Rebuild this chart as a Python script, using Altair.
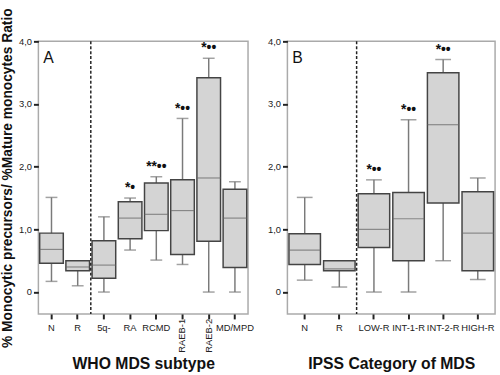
import altair as alt
import pandas as pd

# ---- data ----
catsA = ["N", "R", "5q-", "RA", "RCMD", "RAEB-1", "RAEB-2", "MD/MPD"]
lowA = [0.17, 0.10, 0.00, 0.67, 0.51, 0.44, 0.00, 0.00]
q1A = [0.46, 0.34, 0.22, 0.85, 0.98, 0.60, 0.81, 0.39]
medA = [0.68, 0.40, 0.43, 1.18, 1.24, 1.30, 1.82, 1.18]
q3A = [0.94, 0.50, 0.82, 1.44, 1.74, 1.79, 3.42, 1.64]
highA = [1.51, 0.50, 1.20, 1.50, 1.84, 2.77, 3.73, 1.76]
sigA = ["", "", "", "*•", "**••", "*••", "*••", ""]
rotatedA = ["RAEB-1", "RAEB-2"]

catsB = ["N", "R", "LOW-R", "INT-1-R", "INT-2-R", "HIGH-R"]
lowB = [0.19, 0.08, 0.00, 0.00, 0.50, 0.20]
q1B = [0.44, 0.34, 0.71, 0.50, 1.42, 0.34]
medB = [0.67, 0.37, 1.00, 1.17, 2.67, 0.94]
q3B = [0.93, 0.50, 1.57, 1.59, 3.50, 1.60]
highB = [1.51, 0.50, 1.79, 2.75, 3.71, 1.82]
sigB = ["", "", "*••", "*••", "*••", ""]

y_ticks = [0, 1, 2, 3, 4]
y_domain = [-0.35, 4.0]

FONT = "Liberation Sans"
H = 277


def panel(cats, low, q1, med, q3, high, sig, letter, xtitle, width,
          box_px, cap_px, rotated, show_ytitle):
    df = pd.DataFrame({"cat": cats, "low": low, "q1": q1, "med": med,
                       "q3": q3, "high": high, "sig": sig})
    hidden = "[" + ",".join("'%s'" % r for r in rotated) + "]"
    xenc = alt.X("cat:N", sort=cats,
                 scale=alt.Scale(domain=cats, paddingInner=0, paddingOuter=0),
                 axis=alt.Axis(title=xtitle, labelAngle=0,
                               labelExpr=("indexof(%s, datum.value) >= 0 ? '' : datum.value" % hidden),
                               labelFont=FONT, labelFontSize=9.5, labelColor="#222",
                               labelPadding=4, tickColor="#222", tickWidth=2,
                               tickSize=5, domain=False,
                               titleFont=FONT, titleFontSize=16,
                               titleFontWeight="bold", titleColor="#111",
                               titlePadding=24))
    yscale = alt.Scale(domain=y_domain, nice=False, zero=False)
    yaxis = alt.Axis(values=y_ticks, grid=False, domain=False,
                     labelExpr="datum.value == 0 ? '0' : replace(format(datum.value, '.1f'), '.', ',')",
                     labelFont=FONT, labelFontSize=9.5, labelColor="#222",
                     labelPadding=2, tickColor="#222", tickWidth=2, tickSize=5,
                     title=("% Monocytic precursors/ %Mature monocytes Ratio" if show_ytitle else None),
                     titleFont=FONT, titleFontSize=14, titleFontWeight="bold",
                     titleColor="#111", titlePadding=4)
    base = alt.Chart(df)
    whisk = base.mark_rule(color="#7a7a7a", strokeWidth=1.5).encode(
        x=xenc, y=alt.Y("low:Q", scale=yscale, axis=yaxis), y2="high:Q")
    caps_hi = base.mark_tick(color="#7a7a7a", thickness=1.5, size=cap_px).encode(
        x="cat:N", y="high:Q")
    caps_lo = base.mark_tick(color="#7a7a7a", thickness=1.5, size=cap_px).encode(
        x="cat:N", y="low:Q")
    box = base.mark_bar(fill="#d4d4d4", stroke="#444", strokeWidth=1.5,
                        width=box_px).encode(x="cat:N", y="q1:Q", y2="q3:Q")
    medt = base.mark_tick(color="#666", thickness=1.2, size=box_px).encode(
        x="cat:N", y="med:Q")
    sigt = base.mark_text(font=FONT, fontSize=14, fontWeight="bold",
                          baseline="bottom", dy=-3, color="#111").encode(
        x="cat:N", y="high:Q", text="sig:N")
    div = alt.Chart(pd.DataFrame({"cat": [cats[1]]})).mark_rule(
        color="#222", strokeDash=[3, 2], strokeWidth=1.5).encode(
        x=alt.X("cat:N", bandPosition=1), y=alt.value(0), y2=alt.value(H))
    lab = alt.Chart(pd.DataFrame({"t": [letter]})).mark_text(
        font=FONT, fontSize=16, align="left", baseline="middle",
        color="#111").encode(x=alt.value(5), y=alt.value(17), text="t:N")
    layers = [whisk, caps_hi, caps_lo, box, medt, sigt, div, lab]
    if rotated:
        rot = alt.Chart(pd.DataFrame({"cat": rotated})).mark_text(
            font=FONT, fontSize=9.5, angle=270, align="right", baseline="middle",
            color="#222").encode(x="cat:N", y=alt.value(H + 5), text="cat:N")
        layers.append(rot)
    return alt.layer(*layers).properties(width=width, height=H)


pA = panel(catsA, lowA, q1A, medA, q3A, highA, sigA, "A", "WHO MDS subtype",
           213, 24, 12, rotatedA, True)
pB = panel(catsB, lowB, q1B, medB, q3B, highB, sigB, "B", "IPSS Category of MDS",
           211, 32, 16, [], False)

chart = alt.hconcat(pA, pB, spacing=12).properties(
    padding={"top": 4, "left": 0, "right": 4, "bottom": 0},
    background="white"
).configure_view(stroke="#aaaaaa", strokeWidth=1.5).configure_concat(spacing=12)

chart.save("out.html", embed_options={"renderer": "svg", "actions": False})
